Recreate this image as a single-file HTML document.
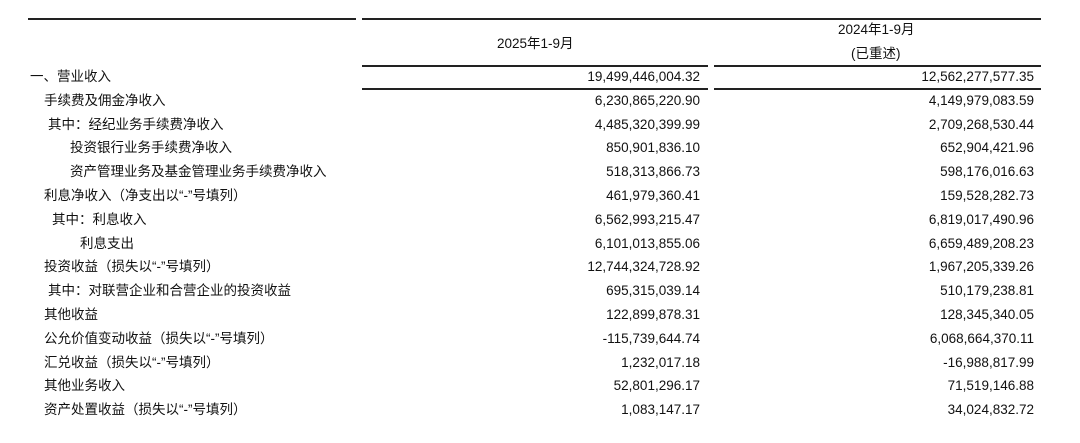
<!DOCTYPE html>
<html><head><meta charset="utf-8"><style>
body{margin:0;width:1080px;height:443px;background:#fff;position:relative;font-family:"Liberation Sans","Noto Sans CJK SC",sans-serif;font-size:13.5px;color:#111;overflow:hidden}
.l{position:absolute;height:2px;background:#222}
.t{position:absolute;white-space:nowrap;line-height:16px}
.r{position:absolute;white-space:nowrap;line-height:16px;text-align:right}
</style></head><body>
<div class="l" style="left:28px;top:18px;width:328px"></div>
<div class="l" style="left:362px;top:18px;width:679px"></div>
<div class="l" style="left:362px;top:65px;width:346px"></div>
<div class="l" style="left:714px;top:65px;width:327px"></div>
<div class="l" style="left:362px;top:88px;width:346px"></div>
<div class="l" style="left:714px;top:88px;width:327px"></div>
<div class="t" style="left:497px;top:36px">2025年1-9月</div>
<div class="t" style="left:838px;top:22px">2024年1-9月</div>
<div class="t" style="left:851px;top:46px">(已重述)</div>
<div id="rows"></div>
<script>
var d=[[30,"一、营业收入","19,499,446,004.32","12,562,277,577.35"],
[44,"手续费及佣金净收入","6,230,865,220.90","4,149,979,083.59"],
[48,"其中：经纪业务手续费净收入","4,485,320,399.99","2,709,268,530.44"],
[70,"投资银行业务手续费净收入","850,901,836.10","652,904,421.96"],
[70,"资产管理业务及基金管理业务手续费净收入","518,313,866.73","598,176,016.63"],
[44,"利息净收入（净支出以“-”号填列）","461,979,360.41","159,528,282.73"],
[52,"其中：利息收入","6,562,993,215.47","6,819,017,490.96"],
[80,"利息支出","6,101,013,855.06","6,659,489,208.23"],
[44,"投资收益（损失以“-”号填列）","12,744,324,728.92","1,967,205,339.26"],
[48,"其中：对联营企业和合营企业的投资收益","695,315,039.14","510,179,238.81"],
[44,"其他收益","122,899,878.31","128,345,340.05"],
[44,"公允价值变动收益（损失以“-”号填列）","-115,739,644.74","6,068,664,370.11"],
[44,"汇兑收益（损失以“-”号填列）","1,232,017.18","-16,988,817.99"],
[44,"其他业务收入","52,801,296.17","71,519,146.88"],
[44,"资产处置收益（损失以“-”号填列）","1,083,147.17","34,024,832.72"]];
var h="";
d.forEach(function(r,i){var y=69+i*23.8;
h+='<div class="t" style="left:'+r[0]+'px;top:'+y+'px">'+r[1]+'</div>';
h+='<div class="r" style="right:380px;top:'+y+'px">'+r[2]+'</div>';
h+='<div class="r" style="right:46px;top:'+y+'px">'+r[3]+'</div>';});
document.getElementById("rows").innerHTML=h;
</script>
</body></html>
